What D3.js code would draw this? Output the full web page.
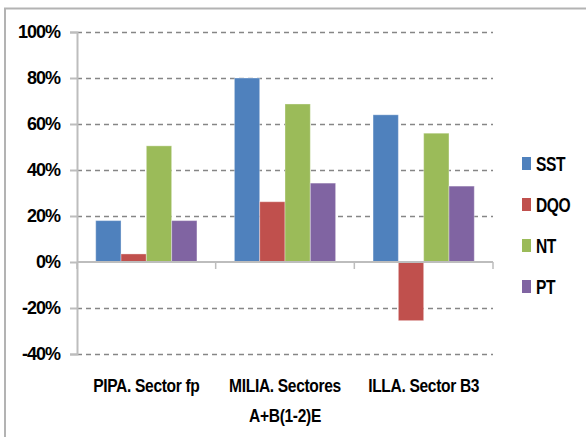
<!DOCTYPE html>
<html>
<head>
<meta charset="utf-8">
<script src="https://cdn.jsdelivr.net/npm/d3@7"></script>
<style>
  body { margin: 0; background: #fff; }
  svg { display: block; }
</style>
</head>
<body>
<div class="chart"></div>
<script>
// categories, series and tick values
var categories = [["PIPA. Sector fp"], ["MILIA. Sectores", "A+B(1-2)E"], ["ILLA. Sector B3"]];
var seriesNames = ["SST", "DQO", "NT", "PT"];
var seriesColors = ["#4f81bd", "#c0504d", "#9bbb59", "#8064a2"];
var sst = [0.18, 0.80, 0.64];
var dqo = [0.035, 0.262, -0.255];
var nt = [0.505, 0.687, 0.56];
var pt = [0.18, 0.343, 0.33];
var yTicks = [-0.4, -0.2, 0, 0.2, 0.4, 0.6, 0.8, 1.0];

var svgWidth = 586;
var svgHeight = 437;

var margin = { top: 32, right: 93, bottom: 83, left: 77 };
var width = svgWidth - margin.left - margin.right;
var height = svgHeight - margin.top - margin.bottom;

var svg = d3.select(".chart")
    .append("svg")
    .attr("width", svgWidth)
    .attr("height", svgHeight);

// chart area border (only top and left show in the frame)
svg.append("path")
    .attr("d", "M5,437 V8.5 H586")
    .attr("fill", "none")
    .attr("stroke", "#b3b3b3")
    .attr("stroke-width", 2);

var chartGroup = svg.append("g")
    .attr("transform", `translate(${margin.left}, ${margin.top})`);

// scales
var yScale = d3.scaleLinear()
    .domain([-0.4, 1.0])
    .range([height, 0]);

var x0 = d3.scaleBand()
    .domain(d3.range(categories.length))
    .range([0, width])
    .paddingInner(0.27)
    .paddingOuter(0.135);

var x1 = d3.scaleBand()
    .domain(seriesNames)
    .range([0, x0.bandwidth()]);

var catScale = d3.scaleBand()
    .domain(d3.range(categories.length))
    .range([0, width]);

// gridlines
chartGroup.append("g")
    .selectAll("line")
    .data(yTicks.filter(d => d !== 0))
    .enter()
    .append("line")
    .attr("x1", 0)
    .attr("x2", width)
    .attr("y1", d => Math.round(yScale(d)) + 0.5)
    .attr("y2", d => Math.round(yScale(d)) + 0.5)
    .attr("stroke", "#868686")
    .attr("stroke-width", 1.3)
    .attr("stroke-dasharray", "5,4");

// y axis, hyphen instead of unicode minus like the original
var pct = d3.format(".0%");
var leftAxis = d3.axisLeft(yScale)
    .tickValues(yTicks)
    .tickFormat(d => pct(d).replace("\u2212", "-"))
    .tickSize(7)
    .tickPadding(10);

var yAxisG = chartGroup.append("g").call(leftAxis);
yAxisG.select(".domain").attr("stroke", "#bdbdbd").attr("stroke-width", 2);
yAxisG.selectAll(".tick line").attr("stroke", "#bdbdbd").attr("stroke-width", 2);
yAxisG.selectAll(".tick text")
    .attr("fill", "#000")
    .attr("font-family", "'Liberation Sans', Arial, sans-serif")
    .attr("font-weight", "bold")
    .attr("font-size", 18)
    .attr("letter-spacing", -1);

// bars
var rows = seriesNames.map(function(name, i) {
    var vals = [sst, dqo, nt, pt][i];
    return vals.map(function(v, j) {
        return { series: name, cat: j, value: v, color: seriesColors[i] };
    });
});

chartGroup.append("g")
    .selectAll("rect")
    .data(rows.flat())
    .enter()
    .append("rect")
    .attr("x", d => x0(d.cat) + x1(d.series))
    .attr("y", d => yScale(Math.max(0, d.value)))
    .attr("width", x1.bandwidth())
    .attr("height", d => Math.abs(yScale(d.value) - yScale(0)))
    .attr("fill", d => d.color)
    .attr("stroke", "rgba(255,255,255,0.35)")
    .attr("stroke-width", 1);

// x axis at zero
var zeroG = chartGroup.append("g")
    .attr("transform", `translate(0, ${yScale(0)})`);

zeroG.append("line")
    .attr("x1", 0)
    .attr("x2", width)
    .attr("stroke", "#bdbdbd")
    .attr("stroke-width", 2);

zeroG.selectAll(".cat-tick")
    .data(d3.range(categories.length + 1))
    .enter()
    .append("line")
    .attr("x1", d => d * catScale.step())
    .attr("x2", d => d * catScale.step())
    .attr("y1", 0)
    .attr("y2", 7)
    .attr("stroke", "#bdbdbd")
    .attr("stroke-width", 1.5);

// category labels (condensed like the original font)
var labelG = chartGroup.append("g")
    .attr("transform", `translate(0, ${height})`);

labelG.selectAll("g")
    .data(categories)
    .enter()
    .append("g")
    .attr("transform", (d, i) => `translate(${catScale(i) + catScale.bandwidth() / 2}, 38) scale(0.82, 1)`)
    .append("text")
    .attr("text-anchor", "middle")
    .attr("font-family", "'Liberation Sans', Arial, sans-serif")
    .attr("font-weight", "bold")
    .attr("font-size", 19)
    .attr("letter-spacing", -0.4)
    .attr("fill", "#000")
    .selectAll("tspan")
    .data(d => d)
    .enter()
    .append("tspan")
    .attr("x", 0)
    .attr("dy", (d, i) => i === 0 ? 0 : 30)
    .text(d => d);

// legend
var legend = svg.append("g")
    .attr("transform", "translate(522, 157)");

var legendItems = legend.selectAll("g")
    .data(seriesNames)
    .enter()
    .append("g")
    .attr("transform", (d, i) => `translate(0, ${i * 41})`);

legendItems.append("rect")
    .attr("width", 9)
    .attr("height", 13)
    .attr("fill", (d, i) => seriesColors[i]);

legendItems.append("text")
    .attr("transform", "translate(14, 13.5) scale(0.78, 1)")
    .attr("font-family", "'Liberation Sans', Arial, sans-serif")
    .attr("font-weight", "bold")
    .attr("font-size", 20)
    .attr("letter-spacing", -0.5)
    .attr("fill", "#000")
    .text(d => d);
</script>
</body>
</html>
